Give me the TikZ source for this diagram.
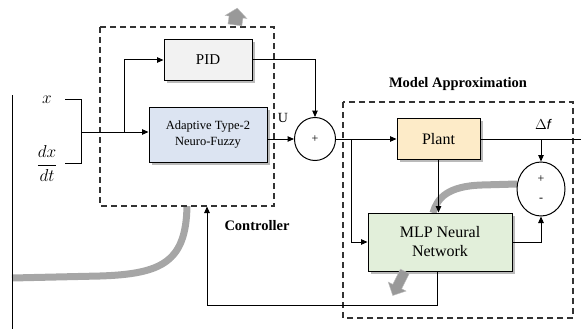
\documentclass[tikz,border=0pt]{standalone}
\usepackage{fontspec}
\setmainfont{Liberation Serif}
\newfontfamily\arialfont{Liberation Sans}
\usetikzlibrary{arrows.meta,shadows,shapes.geometric}
\definecolor{pidc}{HTML}{F2F2F2}
\definecolor{adc}{HTML}{DCE4F2}
\definecolor{plc}{HTML}{FDEBC8}
\definecolor{mlc}{HTML}{E2EFDA}
\definecolor{grayc}{HTML}{A6A6A6}
\begin{document}
\begin{tikzpicture}[x=1pt,y=-1pt,line width=1pt,
  blk/.style={draw, line width=1pt, align=center,
    drop shadow={shadow xshift=2.5pt,shadow yshift=-2.5pt,fill=black!45,opacity=0.6}},
  arr/.style={-{Triangle[length=6.5pt,width=5.5pt]}},
  sumc/.style={draw, ellipse, line width=1pt, inner sep=0pt},
  dbox/.style={draw, dash pattern=on 6pt off 4pt, line width=1.2pt, black!80},
  gcurve/.style={draw=grayc, line width=7pt},
  fatarrow/.style={fill=black!40, draw=black!25, line width=0.4pt},
  lbl/.style={font=\fontsize{14.5}{17}\selectfont\bfseries}]
\useasboundingbox (0,0) rectangle (581,329);

% gray decorative curves (behind)
\draw[gcurve] (187,206) .. controls (186,262) and (162,274) .. (100,276) -- (12,278);
\draw[gcurve] (517,184) -- (482,185) .. controls (448,186) and (437,198) .. (433,213);

% dashed boxes
\draw[dbox] (100,27) rectangle (274,206);
\draw[dbox] (343,102) rectangle (573,318);
\node[lbl] (ctl) at (257,226) {Controller};
\node[lbl] (mod) at (458,84) {Model Approximation};

% blocks
\node[blk, fill=pidc, minimum width=88, minimum height=41, font=\fontsize{15}{17}\selectfont] (pid) at (208,60) {PID};
\node[blk, fill=adc, minimum width=118, minimum height=55, font=\fontsize{12.5}{15.5}\selectfont] (ad) at (208,134.5) {Adaptive Type-2\\Neuro-Fuzzy};
\node[sumc, minimum width=41, minimum height=43, font=\fontsize{12}{14}\selectfont] (s1) at (315,139) {+};
\node[blk, fill=plc, minimum width=83, minimum height=41, font=\fontsize{16}{18}\selectfont] (pl) at (438.5,139) {Plant};
\node[blk, fill=mlc, minimum width=144, minimum height=58, font=\fontsize{16}{19}\selectfont] (mlp) at (440,242) {MLP Neural\\Network};
\node[sumc, minimum width=48, minimum height=54] (s2) at (541,189) {};
\node[font=\fontsize{12}{14}\selectfont] (pp) at (541,179) {+};
\node[font=\fontsize{12}{14}\selectfont] (mm) at (541,200) {-};

% inputs
\draw[line width=0.8pt] (12,95) -- (12,329);
\node[font=\fontsize{17}{20}\selectfont] (xl) at (47,100) {$x$};
\node[font=\fontsize{17}{20}\selectfont] (dl) at (47,163.5) {$\displaystyle\frac{dx}{dt}$};
\coordinate (b1) at (65,99);
\coordinate (b2) at (81,99);
\coordinate (b3) at (81,163);
\coordinate (b4) at (65,163);
\coordinate (bm) at (81,132);
\coordinate (br) at (124,132);
\draw (b1) -- (b2) -- (b3) -- (b4);
\draw[arr] (bm) -- (ad.west |- bm);
\draw[arr] (br) |- (pid.west);

% controller outputs
\draw[arr] (ad.east |- s1) -- (s1.west);
\node[font=\fontsize{14}{16}\selectfont] (ul) at (283,118) {U};
\draw[arr] (pid.east) -| (s1.north);

% plant path
\coordinate (br2) at (351,139);
\draw[arr] (s1.east) -- (pl.west);
\draw[arr] (br2) |- (mlp.west);
\draw[arr] (pl.south) -- (pl.south |- mlp.north);
\coordinate (pout) at (581,139);
\draw (pl.east) -- (pout);
\coordinate (tap) at (541,139);
\draw[arr] (tap) -- (s2.north);
\node[font=\arialfont\itshape\fontsize{14}{16}\selectfont] (df) at (543,124) {$\Delta$f};
\draw[arr] (mlp.east) -| (s2.south);

% feedback to controller
\coordinate (fb1) at (437,271);
\coordinate (fb2) at (437,305);
\coordinate (fb3) at (207,305);
\coordinate (fb4) at (207,206.5);
\draw[arr] (fb1) -- (fb2) -- (fb3) -- (fb4);

% fat gray arrows
\begin{scope}[shift={(236,17)}, rotate=-8]
\filldraw[fatarrow] (0,-9) -- (11,0) -- (7,0) -- (7,8) -- (-7,8) -- (-7,0) -- (-11,0) -- cycle;
\end{scope}
\begin{scope}[shift={(399,283)}, rotate=153.4]
\filldraw[fatarrow] (0,-14) -- (10,-4) -- (5,-4) -- (5,13) -- (-5,13) -- (-5,-4) -- (-10,-4) -- cycle;
\end{scope}
\end{tikzpicture}
\end{document}
